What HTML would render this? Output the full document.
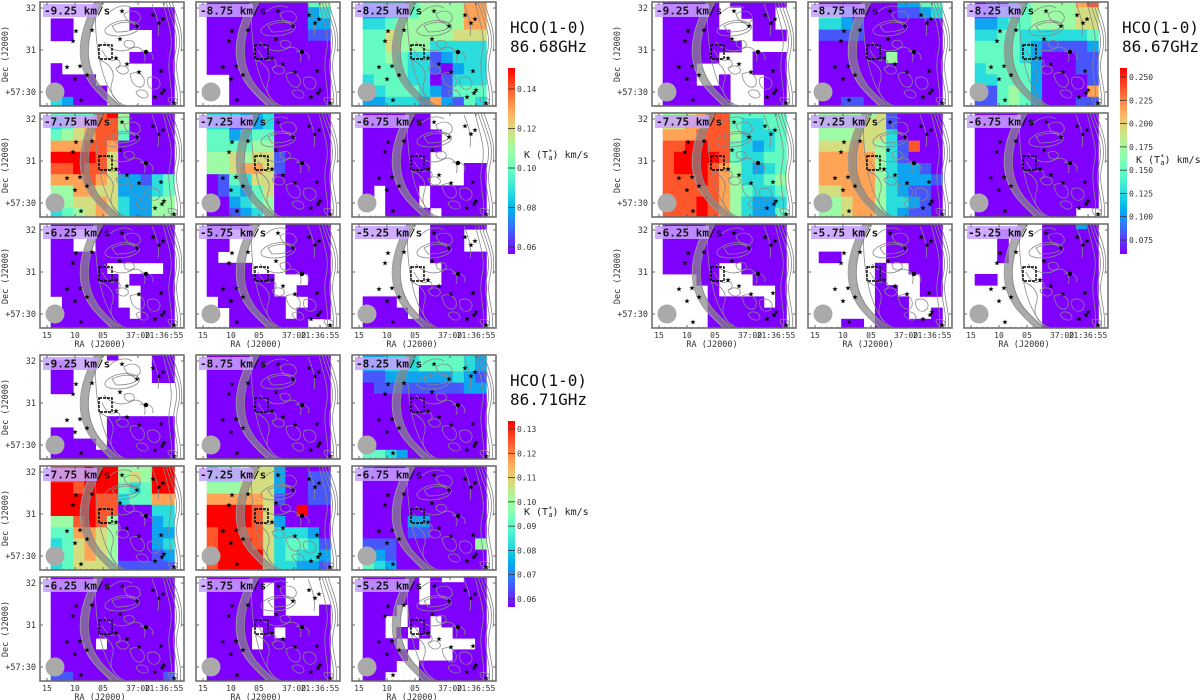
<!DOCTYPE html>
<html><head><meta charset="utf-8"><style>
html,body{margin:0;padding:0;background:#fff;width:1200px;height:700px;overflow:hidden}
svg text{font-family:"DejaVu Sans Mono","Liberation Mono",monospace}
</style></head><body>
<svg id="fig" xmlns="http://www.w3.org/2000/svg" width="1200" height="700" viewBox="0 0 1200 700"></svg>
<script>
const velocities=["-9.25","-8.75","-8.25","-7.75","-7.25","-6.75","-6.25","-5.75","-5.25"];
const xTickLabels=["15","10","05","37:00","21:36:55"];
const yTickLabels=["32","31","+57:30"];
const g1Ticks=[0.06,0.08,0.10,0.12,0.14];
const g2Ticks=[0.075,0.100,0.125,0.150,0.175,0.200,0.225,0.250];
const g3Ticks=[0.06,0.07,0.08,0.09,0.10,0.11,0.12,0.13];
const g1Range=[0.0565,0.1506];
const g2Range=[0.060,0.2597];
const g3Range=[0.0567,0.1333];
const g1Grids=[
["...........",".......0000","00.....0000","00.......00",".........00",".......0000","0........00","0000.....00","00000....00","32000....00"],
["00000000045","00000000023","00000000022","00000000011","00000000000","00000000000","00000000000","..000000000","..000000000","..000000000"],
["33334555577","22334555577","33455555577","44655555666","44655533333","44543312333","44443310233","34443301333","23444321444","22333272143"],
["44448950000","34678850000","45678840000","77788700000","99998600000","88988600000","77787622134","55776622234","45667632255","34567632255"],
["33322300000","33112300000","44234400000","44445500000","55656610000","55677610000","01436600000","01324600000","00234500000","00123500000"],
["000000.....","000000.....","0000000....","0000000....","000000.....","000000...00","000000...00","0.000.00000","..000.00000","..0000.0000"],
["00000000000","00..0000000","00..0000000","00000000000","00000.....0","000000.0000","000000..000",".00000..000",".000000.000","00000000000"],
["0000...0000","00.....0000","00.....0000","0......0000","0000...0000","000000...00","000000..000",".000000..00","..00000.000","..0000000.."],
["......00000","......000..","......000..","......00000",".......0000",".......0000",".....000000","000..000000","0000.000000","00000000000"]
];
const g2Grids=[
["00000.00000","00000..000.","00000...00.","000000..000","0000000....","00000...000","000.....000","000..0...00","000000...00","000000...00"],
["00000002244","44200001123","33210000000","11110000000","00000000000","00000050000","00000000000","00000000000","00000000000","00110000000"],
["01134555578","11334555566","22344555566","33443333334","44443211112","44443200011","34444200011","33444200001","11454200007","11454200011"],
["55678844444","66778843344","77788853334","88998843234","89999843344","89998753234","88898753345","88888754334","88898753223","88898753224"],
["55555610000","55556610000","55566630000","66676531800","77777531000","77777532210","77777532221","66777532110","55677533210","55677532110"],
["00000000000","00000000000","00000000000","00000000000","00000000000","00000000000","00000000000","00000000000","00000000000","000000000.."],
["00000000000","00000000000","00000000000","00000000000","00000..0000","...00...000","....0.....0","....00000.0","....0000000","....0000000"],
["......00000","......00000","......00000","00....00000",".....0..000",".....0...00",".....00..00",".....000...",".....000..0","..00.000000"],
["......00020","..0...00000","..0...00000","..0...00000","......00000","00....00000","......00000","......00000","......00000","......00000"]
];
const g3Grids=[
[".....0...00","00.......00","00.......00","00.........","...........","...........",".....000000","00...000000","0000.000000","00000000000"],
["00000000000","00000000000","00000000000","00000000000","00000000000","00000000000","00000000000","00000000000","00000000000","00000000000"],
["22333444432","22333444432","11222222321","01111111122","00000000000","00000000000","00000000000","00000000000","10000000000","44320000000"],
["88899955599","88899956599","99899943499","99998834477","99998800033","55898500023","44776500022","34676500023","34676500012","34666511111"],
["34456620000","44456620011","55566620011","77777610011","99998600900","99998620000","89988633320","89998634431","89999634332","89999633221"],
["10000000000","00000000000","00000000000","00000000000","00000000000","00002200000","00001100000","11100000005","32100000000","43200000000"],
["00000000000","00000000000","00000000000","00000000000","00000000000","00000000000","0000.000000","00000000000","00000000000","11000000001"],
["0000000....","00000.0....","00000.0....","00000.0...0","00000000000","0000.0.0000","0000.000000","00000000000","00000000000","00000000000"],
["00000.0..00","00000.00000","00000.00000","000.0000000","00..00.0000","00.0.0..000","000.0.....0","0000....000","000..000000","00...000000"]
];
const starPos=[[36,28],[33,38],[52,27],[82,8],[97,23],[113,12],[119,20],[123,16],[80,36],[76,55],[87,61],[99,69],[121,68],[27,64],[40,63],[47,72],[35,76],[41,97],[124,87],[122,90],[115,94],[134,100]];

const NS="http://www.w3.org/2000/svg";
const svg=document.getElementById('fig');
function mk(tag,attrs,parent){const e=document.createElementNS(NS,tag);for(const k in attrs)e.setAttribute(k,attrs[k]);(parent||svg).appendChild(e);return e;}
function rainbow(x){x=Math.max(0,Math.min(1,x));const r=Math.min(1,Math.abs(2*x-0.5)),g=Math.sin(Math.PI*x),b=Math.cos(Math.PI*x/2);return `rgb(${Math.round(r*255)},${Math.round(g*255)},${Math.round(Math.max(0,b)*255)})`;}
const PW=144,PH=104,colX=[0,156,312],rowY=[0,111,222];
const cellX0=10.7,cellW=11.24,cellY0=-6,cellH=11.2;
function xScale(c){return cellX0+c*cellW;}
function yScale(r){return cellY0+r*cellH;}

const defs=mk('defs',{});
const groups=[
 {ox:40,oy:2,grids:g1Grids,range:g1Range,ticks:g1Ticks,dec:2,freq:"86.68GHz",id:"g1",uy:156},
 {ox:652,oy:2,grids:g2Grids,range:g2Range,ticks:g2Ticks,dec:3,freq:"86.67GHz",id:"g2",uy:161},
 {ox:40,oy:355,grids:g3Grids,range:g3Range,ticks:g3Ticks,dec:2,freq:"86.71GHz",id:"g3",uy:160}
];
const cp=mk('clipPath',{id:'pclip'},defs);mk('rect',{x:0,y:0,width:PW,height:PH},cp);
const grad=mk('linearGradient',{id:'cbgrad',x1:0,y1:1,x2:0,y2:0},defs);
for(let i=0;i<=20;i++){mk('stop',{offset:(i/20),'stop-color':rainbow(i/20)},grad);}

const contourPaths=[
"M126,0 C132,20 140,32 135,52 C130,72 140,86 137,104",
"M129,0 C135,20 143,32 138,52 C133,72 143,86 140,104",
"M132,0 C138,18 144,30 141,50",
"M123,0 C128,22 134,34 130,52 C126,70 134,88 131,104",
"M66,26 C74,18 90,16 98,22 C104,28 90,34 78,34 C70,34 62,32 66,26Z",
"M72,24 C80,20 92,18 96,24 C98,28 86,30 76,30Z",
"M84,12 C92,6 102,10 100,18 C96,24 86,20 84,12Z",
"M64,40 C70,48 82,52 92,46 C100,42 108,52 104,60",
"M60,58 C70,62 76,70 72,80 C68,92 76,100 86,104",
"M90,72 C98,68 106,74 104,82 C102,88 92,86 90,72Z",
"M108,76 C116,72 124,80 118,86 C112,90 106,84 108,76Z",
"M76,66 C82,62 90,64 88,70 C84,74 78,72 76,66Z",
"M100,50 C108,46 116,54 112,58",
"M56,0 C54,30 58,60 66,80 C72,94 78,100 82,104",
"M112,2 C116,12 120,22 118,34",
"M128,96 C134,94 140,98 136,102 C132,104 128,100 128,96Z",
"M70,10 C76,4 86,2 92,6",
"M62,48 C66,56 70,60 74,58 C80,56 82,62 78,66",
"M96,90 C100,86 108,88 108,94 C106,98 98,96 96,90Z",
"M84,40 C90,36 96,40 94,44 C90,48 84,46 84,40Z"
];

groups.forEach((G,gi)=>{
 const gEl=mk('g',{transform:`translate(${G.ox},${G.oy})`});
 
 
 G.grids.forEach((grid,pi)=>{
  const c=pi%3,r=Math.floor(pi/3);
  const p=mk('g',{transform:`translate(${colX[c]},${rowY[r]})`},gEl);
  
  
  mk('rect',{x:0,y:0,width:PW,height:PH,fill:'#fff'},p);
  const inner=mk('g',{'clip-path':'url(#pclip)'},p);
  const [vmin,vmax]=G.range;
  grid.forEach((row,ri)=>{
   for(let ci=0;ci<row.length;ci++){
    const ch=row[ci]; if(ch==='.')continue;
    const val=vmin+(+ch)/9*(vmax-vmin);
    const cell=mk('rect',{x:xScale(ci),y:yScale(ri),width:cellW+0.4,height:cellH+0.4,fill:rainbow((val-vmin)/(vmax-vmin))},inner);
    
    
   }
  });
  const arc=mk('path',{d:"M60,-2 C42,30 38,60 56,84 C64,94 72,100 78,106",fill:'none',stroke:'#888','stroke-width':7,opacity:0.7},inner);
  
  
  mk('path',{d:"M64,-2 C46,30 42,60 60,84 C68,94 76,100 82,106",fill:'none',stroke:'#888','stroke-width':1},inner);
  mk('path',{d:"M56,-2 C38,30 34,60 52,84 C60,94 68,100 74,106",fill:'none',stroke:'#999','stroke-width':1},inner);
  contourPaths.forEach(d=>{mk('path',{d:d,fill:'none',stroke:'#888','stroke-width':0.8},inner);});
  starPos.forEach(s=>{const st=mk('text',{x:s[0],y:s[1]+3.5,'font-size':10,'text-anchor':'middle',fill:'#000','font-family':'DejaVu Sans'},inner);st.textContent='★';
   });
  mk('circle',{cx:106,cy:50,r:2.2,fill:'#000'},inner);
  const box=mk('rect',{x:59,y:43,width:13,height:14,fill:'none',stroke:'#000','stroke-width':1.4,'stroke-dasharray':'3,1'},inner);
  
  
  const beam=mk('circle',{cx:15,cy:90,r:9.5,fill:'#aaa'},inner);
  
  
  const lb=mk('rect',{x:3,y:2,width:54,height:13,fill:'rgba(200,160,255,0.85)'},inner);
  
  
  const lt=mk('text',{x:4,y:12.5,'font-size':11,'font-weight':'bold',fill:'#111'},inner);
  lt.textContent=velocities[pi]+' km/s';
  
  
  [7,35,63,98,124].forEach(x=>{mk('line',{x1:x,y1:PH,x2:x,y2:PH-3,stroke:'#444','stroke-width':0.8},p);mk('line',{x1:x,y1:0,x2:x,y2:3,stroke:'#444','stroke-width':0.8},p);});
  for(let x=7;x<PW;x+=5.6){mk('line',{x1:x,y1:PH,x2:x,y2:PH-1.5,stroke:'#666','stroke-width':0.5},p);}
  [6,48,90].forEach(y=>{mk('line',{x1:0,y1:y,x2:3,y2:y,stroke:'#444','stroke-width':0.8},p);mk('line',{x1:PW,y1:y,x2:PW-3,y2:y,stroke:'#444','stroke-width':0.8},p);});
  const fr=mk('rect',{x:0,y:0,width:PW,height:PH,fill:'none',stroke:'#666','stroke-width':1.5},p);
  
  
  if(c===0){
   [6,48,90].forEach((y,i)=>{const t=mk('text',{x:-4,y:y+3,'font-size':8.5,'text-anchor':'end',fill:'#333'},p);t.textContent=yTickLabels[i];
    });
   const dt=mk('text',{x:0,y:0,'font-size':8.5,'text-anchor':'middle',fill:'#333',transform:`translate(-32,52) rotate(-90)`},p);
   dt.textContent='Dec (J2000)';
   
   
  }
  if(r===2){
   [7,35,63,98,124].forEach((x,i)=>{const t=mk('text',{x:x,y:PH+10,'font-size':8,'text-anchor':'middle',fill:'#333'},p);t.textContent=xTickLabels[i];
    });
   const rt=mk('text',{x:60,y:PH+19,'font-size':8.5,'text-anchor':'middle',fill:'#333'},p);
   rt.textContent='RA (J2000)';
   
   
  }
 });
 const t1=mk('text',{x:470,y:31,'font-size':16,fill:'#111'},gEl);t1.textContent='HCO(1-0)';
 
 const t2=mk('text',{x:470,y:50,'font-size':16,fill:'#111'},gEl);t2.textContent=G.freq;
 
 const cbx=468,cby=66,cbh=186,cbw=7;
 const cb=mk('rect',{x:cbx,y:cby,width:cbw,height:cbh,fill:'url(#cbgrad)'},gEl);
 
 
 const [vmin,vmax]=G.range;
 G.ticks.forEach(v=>{
  const y=cby+cbh-(v-vmin)/(vmax-vmin)*cbh;
  mk('line',{x1:cbx,y1:y,x2:cbx+cbw,y2:y,stroke:'#333','stroke-width':0.8},gEl);
  const t=mk('text',{x:cbx+cbw+2,y:y+3,'font-size':8,fill:'#333'},gEl);t.textContent=v.toFixed(G.dec);
  
 });
 const ul=mk('text',{x:cbx+16,y:G.uy,'font-size':10,fill:'#222'},gEl);
 ul.innerHTML='K (T<tspan font-size="7" dy="-4">*</tspan><tspan font-size="7" dy="6" dx="-4">a</tspan><tspan dy="-2">) km/s</tspan>';
 
 
});
</script>
</body></html>
